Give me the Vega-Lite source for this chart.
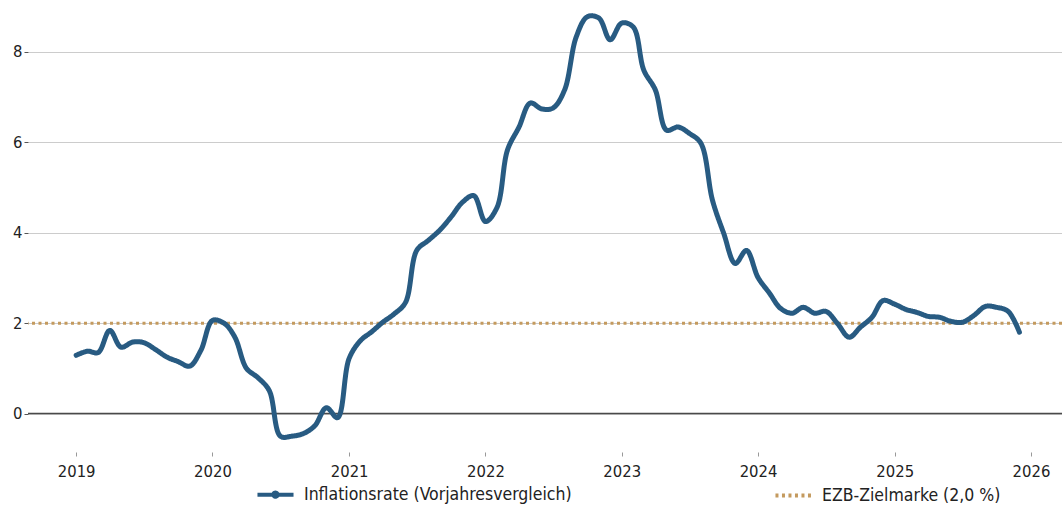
{
  "$schema": "https://vega.github.io/schema/vega-lite/v6.json",
  "width": 1034,
  "height": 452,
  "autosize": {"type": "none"},
  "padding": {"left": 28, "top": 0, "right": 0, "bottom": 55},
  "background": "white",
  "config": {
    "view": {"stroke": null},
    "font": "DejaVu Sans Condensed",
    "axis": {"labelFont": "DejaVu Sans Condensed", "labelFontSize": 16.5, "labelColor": "#222"},
    "legend": {"labelFont": "DejaVu Sans Condensed", "labelFontSize": 17.5, "labelColor": "#222"}
  },
  "datasets": {
    "cpi": [
      {"date": "2019-01-01", "value": 1.29}, {"date": "2019-02-01", "value": 1.38}, {"date": "2019-03-01", "value": 1.35},
      {"date": "2019-04-01", "value": 1.84}, {"date": "2019-05-01", "value": 1.47}, {"date": "2019-06-01", "value": 1.58},
      {"date": "2019-07-01", "value": 1.57}, {"date": "2019-08-01", "value": 1.42}, {"date": "2019-09-01", "value": 1.25},
      {"date": "2019-10-01", "value": 1.15}, {"date": "2019-11-01", "value": 1.05}, {"date": "2019-12-01", "value": 1.4},
      {"date": "2020-01-01", "value": 2.06}, {"date": "2020-02-01", "value": 2.0}, {"date": "2020-03-01", "value": 1.69},
      {"date": "2020-04-01", "value": 1.0}, {"date": "2020-05-01", "value": 0.8}, {"date": "2020-06-01", "value": 0.51},
      {"date": "2020-07-01", "value": -0.5}, {"date": "2020-08-01", "value": -0.5}, {"date": "2020-09-01", "value": -0.44},
      {"date": "2020-10-01", "value": -0.27}, {"date": "2020-11-01", "value": 0.13}, {"date": "2020-12-01", "value": -0.09},
      {"date": "2021-01-01", "value": 1.22}, {"date": "2021-02-01", "value": 1.62}, {"date": "2021-03-01", "value": 1.8},
      {"date": "2021-04-01", "value": 2.02}, {"date": "2021-05-01", "value": 2.2}, {"date": "2021-06-01", "value": 2.46},
      {"date": "2021-07-01", "value": 3.61}, {"date": "2021-08-01", "value": 3.83}, {"date": "2021-09-01", "value": 4.06},
      {"date": "2021-10-01", "value": 4.35}, {"date": "2021-11-01", "value": 4.68}, {"date": "2021-12-01", "value": 4.82},
      {"date": "2022-01-01", "value": 4.25}, {"date": "2022-02-01", "value": 4.56}, {"date": "2022-03-01", "value": 5.83},
      {"date": "2022-04-01", "value": 6.34}, {"date": "2022-05-01", "value": 6.87}, {"date": "2022-06-01", "value": 6.74},
      {"date": "2022-07-01", "value": 6.76}, {"date": "2022-08-01", "value": 7.16}, {"date": "2022-09-01", "value": 8.33},
      {"date": "2022-10-01", "value": 8.78}, {"date": "2022-11-01", "value": 8.75}, {"date": "2022-12-01", "value": 8.27},
      {"date": "2023-01-01", "value": 8.64}, {"date": "2023-02-01", "value": 8.55}, {"date": "2023-03-01", "value": 7.6},
      {"date": "2023-04-01", "value": 7.16}, {"date": "2023-05-01", "value": 6.27}, {"date": "2023-06-01", "value": 6.34},
      {"date": "2023-07-01", "value": 6.2}, {"date": "2023-08-01", "value": 5.98}, {"date": "2023-09-01", "value": 4.72},
      {"date": "2023-10-01", "value": 3.99}, {"date": "2023-11-01", "value": 3.32}, {"date": "2023-12-01", "value": 3.61},
      {"date": "2024-01-01", "value": 3.01}, {"date": "2024-02-01", "value": 2.66}, {"date": "2024-03-01", "value": 2.33},
      {"date": "2024-04-01", "value": 2.22}, {"date": "2024-05-01", "value": 2.35}, {"date": "2024-06-01", "value": 2.22},
      {"date": "2024-07-01", "value": 2.26}, {"date": "2024-08-01", "value": 1.99}, {"date": "2024-09-01", "value": 1.69},
      {"date": "2024-10-01", "value": 1.91}, {"date": "2024-11-01", "value": 2.13}, {"date": "2024-12-01", "value": 2.5},
      {"date": "2025-01-01", "value": 2.42}, {"date": "2025-02-01", "value": 2.3}, {"date": "2025-03-01", "value": 2.24},
      {"date": "2025-04-01", "value": 2.15}, {"date": "2025-05-01", "value": 2.13}, {"date": "2025-06-01", "value": 2.04},
      {"date": "2025-07-01", "value": 2.02}, {"date": "2025-08-01", "value": 2.17}, {"date": "2025-09-01", "value": 2.37},
      {"date": "2025-10-01", "value": 2.35}, {"date": "2025-11-01", "value": 2.26}, {"date": "2025-12-01", "value": 1.8}
    ],
    "target": [{"value": 2.0}],
    "zero": [{"value": 0}]
  },
  "layer": [
    {
      "data": {"name": "zero"},
      "mark": {"type": "rule", "color": "#4a4a4a", "strokeWidth": 1.5},
      "encoding": {"y": {"field": "value", "type": "quantitative"}}
    },
    {
      "data": {"name": "target"},
      "mark": {"type": "rule", "strokeWidth": 3},
      "encoding": {
        "y": {"field": "value", "type": "quantitative"},
        "color": {"datum": "EZB-Zielmarke (2,0 %)"},
        "strokeDash": {"datum": "EZB-Zielmarke (2,0 %)"}
      }
    },
    {
      "data": {"name": "cpi"},
      "mark": {"type": "line", "strokeWidth": 5, "interpolate": "catmull-rom", "strokeCap": "round", "strokeJoin": "round"},
      "encoding": {
        "x": {
          "field": "date", "type": "temporal",
          "scale": {"type": "utc", "domain": [{"year": 2018, "month": 8, "date": 25, "utc": true}, {"year": 2026, "month": 3, "date": 25, "utc": true}]},
          "axis": {
            "title": null, "domain": false, "grid": false, "format": "%Y", "tickSize": 4, "tickColor": "#999", "labelPadding": 7,
            "values": [
              {"year": 2019, "month": 1, "date": 1, "utc": true}, {"year": 2020, "month": 1, "date": 1, "utc": true},
              {"year": 2021, "month": 1, "date": 1, "utc": true}, {"year": 2022, "month": 1, "date": 1, "utc": true},
              {"year": 2023, "month": 1, "date": 1, "utc": true}, {"year": 2024, "month": 1, "date": 1, "utc": true},
              {"year": 2025, "month": 1, "date": 1, "utc": true}, {"year": 2026, "month": 1, "date": 1, "utc": true}
            ]
          }
        },
        "y": {
          "field": "value", "type": "quantitative",
          "scale": {"domain": [-0.85, 9.15], "nice": false, "zero": false},
          "axis": {
            "title": null, "domain": false, "values": [0, 2, 4, 6, 8], "grid": true, "gridColor": "#cccccc", "gridWidth": 1,
            "tickSize": 4, "tickColor": "#555", "labelPadding": 2
          }
        },
        "color": {
          "datum": "Inflationsrate (Vorjahresvergleich)",
          "scale": {"domain": ["Inflationsrate (Vorjahresvergleich)", "EZB-Zielmarke (2,0 %)"], "range": ["#285b82", "#c49a5e"]},
          "legend": {
            "title": null, "orient": "none", "direction": "horizontal", "legendX": 227, "legendY": 474,
            "symbolType": "stroke", "symbolSize": 1300, "symbolStrokeWidth": 4, "columnPadding": 195, "labelOffset": 8, "labelLimit": 400,
            "encode": {
              "symbols": {
                "update": {
                  "shape": {"signal": "datum.value === 'EZB-Zielmarke (2,0 %)' ? 'stroke' : 'M-1,0L1,0M-0.12,0A0.12,0.12 0 1,0 0.12,0A0.12,0.12 0 1,0 -0.12,0'"}
                }
              }
            }
          }
        },
        "strokeDash": {
          "datum": "Inflationsrate (Vorjahresvergleich)",
          "scale": {"domain": ["Inflationsrate (Vorjahresvergleich)", "EZB-Zielmarke (2,0 %)"], "range": [[1, 0], [3, 3.5]]},
          "legend": null
        }
      }
    }
  ]
}
